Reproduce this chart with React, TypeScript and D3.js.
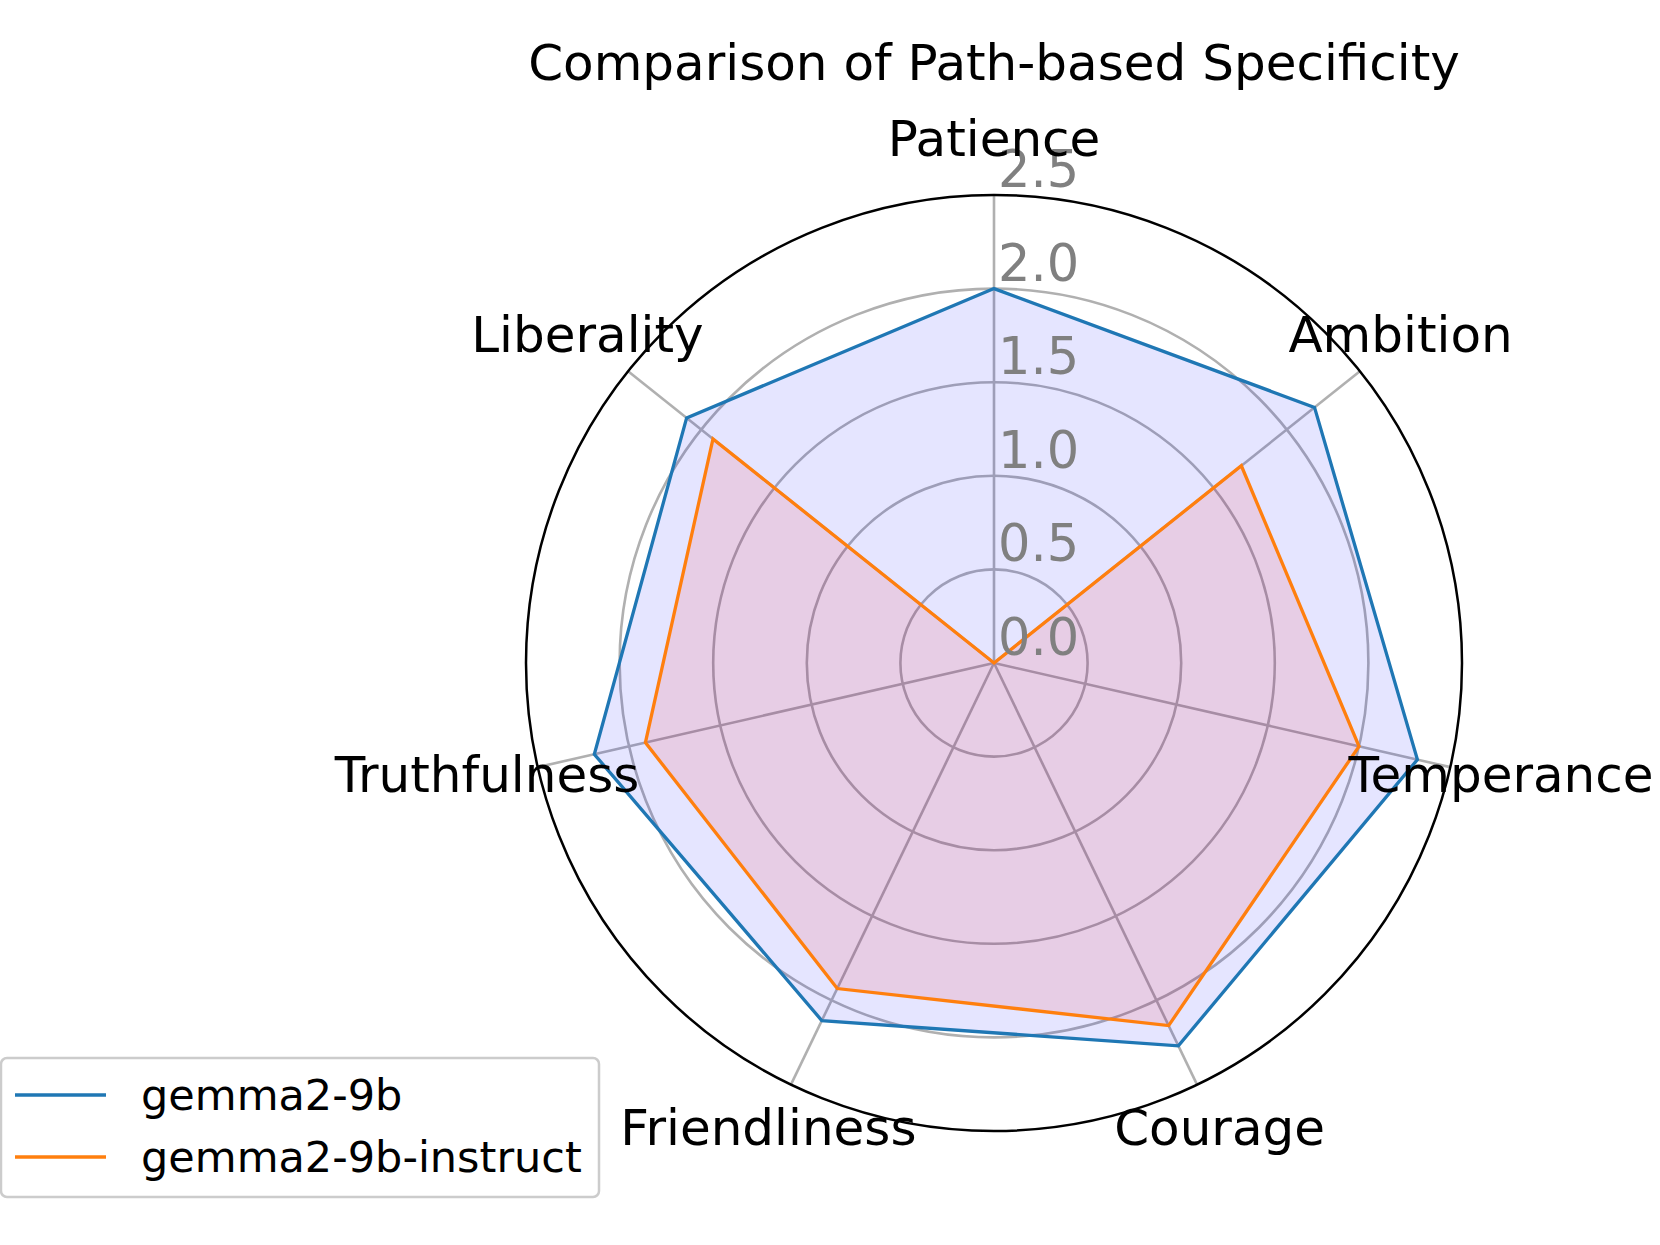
import React from 'react';
import * as d3 from 'd3';

const categories = ['Patience', 'Ambition', 'Temperance', 'Courage', 'Friendliness', 'Truthfulness', 'Liberality'];
const gemmaBase = [2.0, 2.19, 2.32, 2.27, 2.12, 2.19, 2.10];
const gemmaInstruct = [0.0, 1.69, 2.0, 2.15, 1.93, 1.91, 1.92];
const rTicks = [0.0, 0.5, 1.0, 1.5, 2.0, 2.5];
const seriesNames = ['gemma2-9b', 'gemma2-9b-instruct'];

const W = 1660;
const H = 1245;
const cx = 994;
const cy = 663;
const R = 468;
const FONT = '"DejaVu Sans", sans-serif';

const App = () => {
    const r = d3.scaleLinear().domain([0, 2.5]).range([0, R]);
    const step = (2 * Math.PI) / categories.length;

    const radar = d3.lineRadial<number>()
        .angle((_, i) => i * step)
        .radius(d => r(d))
        .curve(d3.curveLinearClosed);

    const series = [
        { name: seriesNames[0], values: gemmaBase, stroke: '#1f77b4', fill: 'blue' },
        { name: seriesNames[1], values: gemmaInstruct, stroke: '#ff7f0e', fill: 'red' },
    ];

    return (
        <div style={{ position: 'absolute', left: 0, top: 0 }}>
            <svg width={W} height={H} style={{ display: 'block', background: '#fff' }}>
                <text x={cx} y={63} textAnchor="middle" dominantBaseline="central"
                    style={{ fontFamily: FONT, fontSize: 50 }}>
                    Comparison of Path-based Specificity
                </text>

                <g transform={`translate(${cx},${cy})`}>
                    {/* grid circles */}
                    {rTicks.slice(1, -1).map(t => (
                        <circle key={t} r={r(t)} fill="none" stroke="#b0b0b0" strokeWidth={2.6} />
                    ))}
                    {/* spokes */}
                    {categories.map((c, i) => (
                        <line key={c} x1={0} y1={0}
                            x2={r(2.5) * Math.sin(i * step)} y2={-r(2.5) * Math.cos(i * step)}
                            stroke="#b0b0b0" strokeWidth={2.6} />
                    ))}

                    {series.map(s => (
                        <path key={s.name + 'f'} d={radar(s.values) || ''} fill={s.fill} fillOpacity={0.1} stroke="none" />
                    ))}
                    {series.map(s => (
                        <path key={s.name} d={radar(s.values) || ''} fill="none" stroke={s.stroke}
                            strokeWidth={3.3} strokeLinejoin="miter" />
                    ))}

                    <circle r={r(2.5)} fill="none" stroke="#000" strokeWidth={2.5} />

                    {/* radial tick labels */}
                    {rTicks.map(t => (
                        <text key={t} x={4} y={-r(t) - 8} fill="#808080"
                            style={{ fontFamily: FONT, fontSize: 51 }}>
                            {t.toFixed(1)}
                        </text>
                    ))}

                    {/* category labels */}
                    {categories.map((c, i) => (
                        <text key={c} x={520 * Math.sin(i * step)} y={-520 * Math.cos(i * step) - 4}
                            textAnchor="middle" dominantBaseline="central"
                            style={{ fontFamily: FONT, fontSize: 50 }}>
                            {c}
                        </text>
                    ))}
                </g>

                {/* legend */}
                <g>
                    <rect x={1} y={1058} width={598} height={139} rx={6} fill="#fff" fillOpacity={0.8}
                        stroke="#cccccc" strokeWidth={2.5} />
                    {series.map((s, i) => (
                        <g key={s.name} transform={`translate(0,${1095 + i * 62})`}>
                            <line x1={15} x2={106} y1={0} y2={0} stroke={s.stroke} strokeWidth={3.3} />
                            <text x={141} y={0} dominantBaseline="central"
                                style={{ fontFamily: FONT, fontSize: 43 }}>
                                {s.name}
                            </text>
                        </g>
                    ))}
                </g>
            </svg>
        </div>
    );
};

export default App;
